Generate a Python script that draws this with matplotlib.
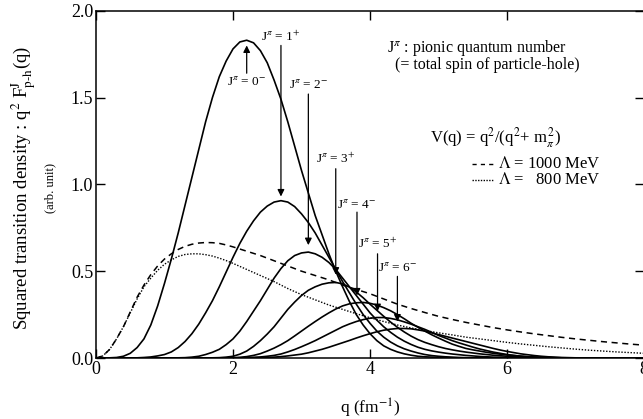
import numpy as np
import matplotlib
matplotlib.use("Agg")
import matplotlib.pyplot as plt

plt.rcParams['font.family'] = ['Liberation Serif', 'DejaVu Serif']
plt.rcParams['mathtext.fontset'] = 'stix'

# squared transition densities q^2 F^J_{p-h}(q), sampled every 0.1 fm^-1
# starting at the given q (fm^-1); zero elsewhere on 0..8
j0_start, j0 = 0.0, [0, 0, 0.001, 0.003, 0.01, 0.027, 0.06, 0.11, 0.19, 0.30, 0.43, 0.57, 0.72,
                     0.88, 1.04, 1.20, 1.36, 1.50, 1.62, 1.71, 1.78, 1.82, 1.83, 1.815, 1.77,
                     1.70, 1.60, 1.49, 1.36, 1.22, 1.08, 0.95, 0.82, 0.71, 0.60, 0.50, 0.41,
                     0.325, 0.25, 0.19, 0.14, 0.10, 0.07, 0.05, 0.035, 0.024, 0.016, 0.01,
                     0.007, 0.005, 0.003, 0.002, 0.001]
j1_start, j1 = 0.6, [0.001, 0.003, 0.006, 0.012, 0.02, 0.035, 0.06, 0.095, 0.14, 0.195, 0.26,
                     0.33, 0.41, 0.495, 0.58, 0.66, 0.73, 0.79, 0.84, 0.875, 0.898, 0.906,
                     0.898, 0.872, 0.83, 0.78, 0.72, 0.65, 0.58, 0.51, 0.44, 0.375, 0.31, 0.25,
                     0.20, 0.155, 0.12, 0.092, 0.07, 0.053, 0.04, 0.029, 0.02, 0.014, 0.01,
                     0.007, 0.005, 0.003, 0.002, 0.001, 0]
j2_start, j2 = 1.2, [0.001, 0.002, 0.005, 0.01, 0.02, 0.033, 0.05, 0.077, 0.11, 0.155, 0.21,
                     0.27, 0.33, 0.395, 0.46, 0.515, 0.56, 0.59, 0.605, 0.61, 0.60, 0.58, 0.55,
                     0.51, 0.46, 0.41, 0.36, 0.31, 0.26, 0.218, 0.18, 0.148, 0.12, 0.097, 0.078,
                     0.062, 0.05, 0.041, 0.034, 0.028, 0.023, 0.019, 0.015, 0.012, 0.009,
                     0.007, 0.005, 0.004, 0.003, 0.002, 0.001]
j3_start, j3 = 1.6, [0, 0.001, 0.002, 0.005, 0.01, 0.022, 0.04, 0.067, 0.10, 0.138, 0.18, 0.23,
                     0.28, 0.322, 0.36, 0.39, 0.41, 0.425, 0.433, 0.435, 0.427, 0.408, 0.38,
                     0.347, 0.31, 0.275, 0.24, 0.207, 0.177, 0.15, 0.126, 0.106, 0.09, 0.077,
                     0.065, 0.055, 0.047, 0.04, 0.034, 0.029, 0.024, 0.02, 0.016, 0.013, 0.01,
                     0.008, 0.006, 0.004, 0.003, 0.002, 0.001]
j4_start, j4 = 1.9, [0.001, 0.002, 0.004, 0.008, 0.015, 0.025, 0.04, 0.057, 0.077, 0.10, 0.127,
                     0.155, 0.183, 0.21, 0.236, 0.26, 0.282, 0.30, 0.312, 0.318, 0.32, 0.315,
                     0.305, 0.29, 0.272, 0.25, 0.226, 0.20, 0.177, 0.155, 0.134, 0.115, 0.097,
                     0.08, 0.067, 0.055, 0.047, 0.04, 0.033, 0.027, 0.022, 0.018, 0.014, 0.011,
                     0.008, 0.006, 0.004, 0.003, 0.002, 0.001]
j5_start, j5 = 2.1, [0.001, 0.002, 0.004, 0.006, 0.01, 0.015, 0.023, 0.035, 0.049, 0.065, 0.082,
                     0.10, 0.12, 0.14, 0.16, 0.18, 0.196, 0.21, 0.221, 0.229, 0.233, 0.233,
                     0.228, 0.22, 0.208, 0.195, 0.18, 0.165, 0.148, 0.13, 0.115, 0.10, 0.087,
                     0.075, 0.063, 0.052, 0.043, 0.034, 0.027, 0.02, 0.015, 0.01, 0.007, 0.005,
                     0.003, 0.002, 0.001, 0]
j6_start, j6 = 2.3, [0.001, 0.002, 0.003, 0.005, 0.008, 0.012, 0.017, 0.022, 0.03, 0.04, 0.05,
                     0.062, 0.075, 0.088, 0.101, 0.115, 0.128, 0.14, 0.151, 0.16, 0.166, 0.17,
                     0.17, 0.168, 0.162, 0.155, 0.145, 0.135, 0.125, 0.115, 0.105, 0.095, 0.085,
                     0.075, 0.065, 0.055, 0.046, 0.038, 0.031, 0.024, 0.019, 0.014, 0.01,
                     0.007, 0.005, 0.003, 0.002, 0.001]

# V(q) = q^2/(q^2+m_pi^2) with monopole cutoffs
q_lam = np.concatenate([np.arange(0.0, 1.95, 0.1), np.arange(2.0, 8.01, 0.2)])
lam1000 = [0, 0.012, 0.05, 0.11, 0.18, 0.265, 0.35, 0.42, 0.48, 0.53, 0.57, 0.60, 0.625,
           0.643, 0.655, 0.662, 0.665, 0.664, 0.66, 0.651,
           0.64, 0.615, 0.59, 0.56, 0.53, 0.50, 0.475, 0.45, 0.42, 0.395, 0.37, 0.34, 0.31,
           0.285, 0.262, 0.24, 0.222, 0.205, 0.19, 0.175, 0.162, 0.15, 0.139, 0.129, 0.119,
           0.11, 0.102, 0.094, 0.087, 0.08, 0.074]
lam800 = [0, 0.012, 0.05, 0.11, 0.18, 0.26, 0.34, 0.41, 0.46, 0.505, 0.54, 0.565, 0.585,
          0.596, 0.60, 0.60, 0.595, 0.587, 0.575, 0.561,
          0.545, 0.51, 0.475, 0.44, 0.40, 0.365, 0.335, 0.305, 0.28, 0.255, 0.232, 0.21,
          0.19, 0.173, 0.158, 0.145, 0.133, 0.12, 0.11, 0.10, 0.09, 0.081, 0.073, 0.065,
          0.058, 0.051, 0.045, 0.04, 0.035, 0.031, 0.027]

spin_labels = [r"J$^{\pi}$ = 0$^{-}$", r"J$^{\pi}$ = 1$^{+}$", r"J$^{\pi}$ = 2$^{-}$",
               r"J$^{\pi}$ = 3$^{+}$", r"J$^{\pi}$ = 4$^{-}$", r"J$^{\pi}$ = 5$^{+}$",
               r"J$^{\pi}$ = 6$^{-}$"]
# arrow: x, label y, tail y, head y
arrow_x = [2.20, 2.70, 3.10, 3.50, 3.81, 4.11, 4.40]
label_y = [1.59, 1.85, 1.575, 1.15, 0.885, 0.655, 0.52]
tail_y = [1.64, 1.80, 1.52, 1.09, 0.84, 0.60, 0.47]
head_y = [1.80, 0.93, 0.65, 0.48, 0.36, 0.27, 0.21]

fig = plt.figure(figsize=(6.43, 4.19), dpi=100)
ax = fig.add_axes([96 / 643, 1 - 358 / 419, 548 / 643, 347.3 / 419])

curves = [(j0_start, j0), (j1_start, j1), (j2_start, j2), (j3_start, j3),
          (j4_start, j4), (j5_start, j5), (j6_start, j6)]
for start, vals in curves:
    qs = start + 0.1 * np.arange(len(vals))
    qs = np.concatenate([[0.0], qs, [8.0]])
    vs = np.concatenate([[0.0], vals, [0.0]])
    ax.plot(qs, vs, color='black', lw=1.2, solid_joinstyle='round')
ax.plot(q_lam, lam1000, color='black', lw=1.1, linestyle=(0, (4, 3)))
ax.plot(q_lam, lam800, color='black', lw=1.0, linestyle=(0, (1, 1.2)))

for lab, x, ly, ty, hy in zip(spin_labels, arrow_x, label_y, tail_y, head_y):
    ax.text(x, ly, lab, ha='center', va='center', fontsize=9.5)
    ax.annotate('', xy=(x, hy), xytext=(x, ty),
                arrowprops=dict(arrowstyle='-|>', color='black', lw=0.9,
                                mutation_scale=10, shrinkA=0, shrinkB=0))

ax.text(4.25, 1.785, r"J$^{\pi}$ : pionic quantum number", fontsize=11.5, va='center')
ax.text(4.36, 1.685, "(= total spin of particle-hole)", fontsize=11.5, va='center')
ax.text(4.88, 1.272, r"V(q) = q$^{2}$/(q$^{2}$+ m$_{\pi}^{\,2}$)", fontsize=12, va='center')
ax.plot([5.49, 5.80], [1.117, 1.117], color='black', lw=1.0, linestyle=(0, (3, 3)))
ax.text(5.87, 1.117, r"$\Lambda$ = 1000 MeV", fontsize=12, va='center')
ax.plot([5.49, 5.80], [1.025, 1.025], color='black', lw=1.0, linestyle=(0, (1, 1)))
ax.text(5.87, 1.025, r"$\Lambda$ =   800 MeV", fontsize=12, va='center')

ax.set_xlim(0, 8)
ax.set_ylim(0, 2.0)
ax.set_xticks([0, 2, 4, 6, 8])
ax.set_yticks([0.0, 0.5, 1.0, 1.5, 2.0])
ax.set_yticklabels(['0.0', '0.5', '1.0', '1.5', '2.0'])
ax.tick_params(direction='in', length=6.5, width=1, top=True, right=True,
               labelsize=13, pad=2)
for s in ax.spines.values():
    s.set_linewidth(1.1)

ax.set_xlabel(r"q (fm$^{-1}$)", fontsize=12.5, labelpad=14)
fig.text(0.036, 0.551, r"Squared transition density : q$^{2}$ F$^{\rm J}_{\rm p\text{-}h}$(q)",
         rotation=90, ha='center', va='center', fontsize=13.5)
fig.text(0.078, 0.551, "(arb. unit)", rotation=90, ha='center', va='center', fontsize=9)

fig.savefig("out.png", dpi=100)
